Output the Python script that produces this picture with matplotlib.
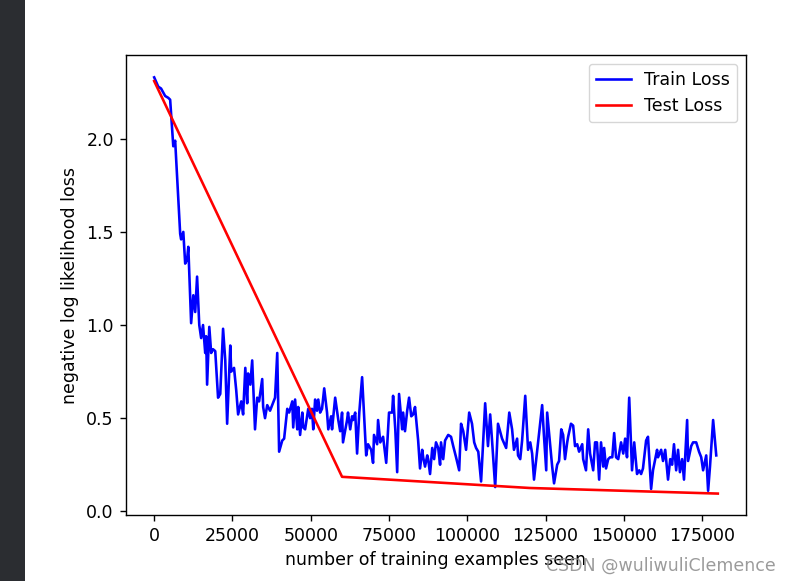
import matplotlib
matplotlib.use("Agg")
import matplotlib.pyplot as plt
from matplotlib.patches import Rectangle

# train loss (examples seen, loss)
train_x = [0, 1300, 2200, 3500, 4500, 5100, 6100, 6700, 8300, 8600, 9300, 9900, 10500, 10900,
           11800, 12500, 13100, 13700, 14400, 15000, 15600, 16300, 16600, 16900, 17600, 18200,
           18800, 19500, 20400, 21100, 22000, 22700, 23300, 24300, 24600, 25500, 26200, 26800,
           27800, 28400, 29100, 29700, 30000, 30700, 31300, 32200, 32900, 33500, 34500, 34800,
           35400, 36100, 37000, 37700, 38600, 39300, 39900, 40900, 41500, 42500, 43100, 44100,
           44400, 45000, 45700, 46000, 46600, 47300, 47600, 48200, 49200, 49800, 50400, 50800,
           51400, 52000, 52400, 53000, 53600, 54300, 55200, 55600, 56500, 56800, 57800, 58800,
           59400, 60000, 60300, 61600, 61900, 62600, 63200, 63500, 64200, 64800, 65500, 66400,
           67100, 67700, 68300, 69300, 69900, 70200, 71200, 71500, 72200, 73100, 74100, 75000,
           76000, 76300, 77000, 77600, 78200, 79200, 79500, 80100, 80800, 81400, 82100, 82700,
           83300, 84300, 84900, 85600, 85900, 86500, 87200, 87500, 88100, 88800, 89400, 90000,
           90700, 91300, 91600, 92300, 92900, 93900, 94800, 95500, 96400, 97400, 98000, 98700,
           99600, 100600, 101500, 102200, 102800, 103500, 104400, 105700, 106600, 107300, 107900,
           108900, 109800, 111100, 112400, 113400, 114300, 114900, 115900, 116200, 116900, 117500,
           118500, 119400, 120100, 120700, 121300, 122600, 123900, 124500, 125200, 125500, 126100,
           127100, 127700, 128700, 129300, 130000, 130600, 131200, 131900, 132200, 133100, 133800,
           134400, 135100, 135700, 136700, 137000, 137900, 138600, 139200, 140200, 140800, 141400,
           142100, 142700, 143400, 143700, 144300, 145000, 145600, 146300, 146900, 147500, 148200,
           149100, 149800, 150400, 151000, 151700, 152600, 153300, 154200, 154900, 155500, 156100,
           157100, 157700, 158700, 159300, 160600, 160900, 161900, 162500, 163200, 164100, 164800,
           165400, 166000, 166700, 167300, 167900, 168600, 169200, 170200, 170500, 171500, 172100,
           173100, 174000, 174700, 175300, 176300, 176900, 177500, 178500, 179500]
train_y = [2.33, 2.28, 2.27, 2.23, 2.22, 2.21, 1.96, 1.99, 1.49, 1.46, 1.50, 1.33, 1.35, 1.42,
           1.01, 1.16, 1.07, 1.26, 1.00, 0.93, 1.00, 0.85, 0.94, 0.68, 0.99, 0.85,
           0.87, 0.86, 0.61, 0.63, 0.98, 0.81, 0.47, 0.89, 0.75, 0.77, 0.65, 0.52,
           0.59, 0.52, 0.77, 0.58, 0.74, 0.68, 0.81, 0.44, 0.61, 0.59, 0.71, 0.56,
           0.50, 0.57, 0.54, 0.57, 0.61, 0.85, 0.32, 0.38, 0.39, 0.55, 0.53, 0.59,
           0.45, 0.60, 0.44, 0.56, 0.41, 0.53, 0.45, 0.44, 0.55, 0.50, 0.55, 0.44,
           0.60, 0.54, 0.60, 0.53, 0.55, 0.66, 0.53, 0.44, 0.51, 0.44, 0.61, 0.49,
           0.43, 0.53, 0.37, 0.49, 0.53, 0.44, 0.51, 0.49, 0.53, 0.31, 0.53, 0.72,
           0.49, 0.30, 0.36, 0.33, 0.26, 0.41, 0.36, 0.49, 0.37, 0.40, 0.26, 0.53,
           0.53, 0.62, 0.44, 0.21, 0.63, 0.44, 0.53, 0.43, 0.54, 0.61, 0.51, 0.52,
           0.56, 0.38, 0.23, 0.33, 0.29, 0.24, 0.30, 0.28, 0.20, 0.34, 0.28, 0.37,
           0.34, 0.25, 0.37, 0.28, 0.38, 0.41, 0.40, 0.35, 0.29, 0.22, 0.47, 0.43,
           0.33, 0.53, 0.47, 0.37, 0.34, 0.32, 0.16, 0.58, 0.35, 0.52, 0.38,
           0.13, 0.47, 0.39, 0.34, 0.53, 0.44, 0.33, 0.39, 0.30, 0.28, 0.38,
           0.62, 0.33, 0.37, 0.31, 0.17, 0.37, 0.57, 0.40, 0.22, 0.53, 0.42,
           0.24, 0.15, 0.25, 0.27, 0.44, 0.41, 0.28, 0.37, 0.40, 0.47, 0.46,
           0.35, 0.36, 0.32, 0.36, 0.28, 0.22, 0.44, 0.31, 0.22, 0.37, 0.37,
           0.17, 0.37, 0.24, 0.34, 0.23, 0.28, 0.29, 0.29, 0.42, 0.29, 0.28,
           0.37, 0.31, 0.39, 0.29, 0.61, 0.22, 0.37, 0.20, 0.22, 0.20, 0.23,
           0.38, 0.40, 0.12, 0.22, 0.33, 0.29, 0.33, 0.27, 0.33, 0.17, 0.28,
           0.25, 0.36, 0.22, 0.33, 0.21, 0.28, 0.17, 0.49, 0.27, 0.35, 0.37,
           0.37, 0.32, 0.29, 0.22, 0.30, 0.11, 0.24, 0.49, 0.30]

# test loss after each epoch
test_x = [0, 60000, 120000, 180000]
test_y = [2.31, 0.185, 0.125, 0.095]

W, H = 790, 581
plt.rcParams['font.size'] = 12.5

fig = plt.figure(figsize=(W / 100, H / 100), dpi=100)
fig.patches.append(Rectangle((0, 0), 25 / W, 1, transform=fig.transFigure,
                             facecolor='#2b2d31', edgecolor='none'))

ax = fig.add_axes([126 / W, (H - 515) / H, 620 / W, 460 / H])
ax.plot(train_x, train_y, color='blue', lw=1.875, label='Train Loss')
ax.plot(test_x, test_y, color='red', lw=1.875, label='Test Loss')
ax.set_xlim(-9000, 189000)
ax.set_ylim(-0.02, 2.45)
ax.set_xticks([0, 25000, 50000, 75000, 100000, 125000, 150000, 175000])
ax.set_yticks([0.0, 0.5, 1.0, 1.5, 2.0])
for s in ax.spines.values():
    s.set_linewidth(1.0)
ax.tick_params(length=4.4, width=1.0, pad=4.4)
ax.set_xlabel('number of training examples seen', labelpad=4.4)
ax.set_ylabel('negative log likelihood loss', labelpad=5)
ax.legend(loc='upper right')

# screenshot watermark
fig.text(776 / W, (H - 566) / H, 'CSDN @wuliwuliClemence', ha='right', va='center',
         fontsize=12.5, color='#8a8a8a', alpha=0.85)

fig.savefig('out.png', dpi=100)
